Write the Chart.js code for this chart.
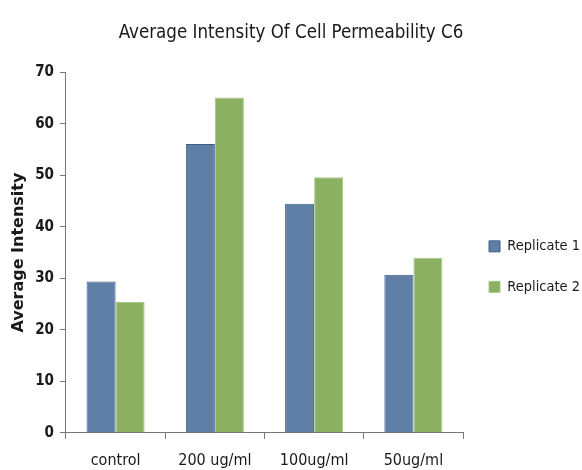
<!DOCTYPE html>
<html>
<head>
<meta charset="utf-8">
<script src="https://cdn.jsdelivr.net/npm/chart.js@4"></script>
<style>
  html, body { margin: 0; padding: 0; background: #fff; }
  #wrap { width: 582px; height: 470px; }
</style>
</head>
<body>
<div id="wrap"><canvas id="c6Chart" width="582" height="470"></canvas></div>
<script>
// chart data
const categories = ['control', '200 ug/ml', '100ug/ml', '50ug/ml'];
const replicate1 = [29.4, 56.1, 44.5, 30.7];
const replicate2 = [25.4, 65.1, 49.6, 34.0];
const yTicks = [0, 10, 20, 30, 40, 50, 60, 70];

const labelFont = "'Liberation Sans Narrow', 'DejaVu Sans Condensed', 'Open Sans', sans-serif";

const ctx = document.getElementById('c6Chart');
new Chart(ctx, {
    type: 'bar',
    data: {
        labels: categories,
        datasets: [
            {
                label: 'Replicate 1',
                data: replicate1,
                backgroundColor: '#607fa6',
                borderColor: '#3d5d85',
                borderWidth: 1
            },
            {
                label: 'Replicate 2',
                data: replicate2,
                backgroundColor: '#8bb061',
                borderColor: '#a6c782',
                borderWidth: 1
            }
        ]
    },
    options: {
        responsive: false,
        animation: false,
        layout: { padding: { left: -8, right: -8, bottom: -12 } },
        datasets: {
            bar: { barPercentage: 1, categoryPercentage: 0.585 }
        },
        plugins: {
            title: {
                display: true,
                text: 'Average Intensity Of Cell Permeability C6',
                color: '#1a1a1a',
                font: { family: labelFont, size: 18.6, weight: 'normal' },
                padding: { top: 22, bottom: 28 }
            },
            legend: {
                position: 'right',
                // empty title only pushes the items further down
                title: { display: true, text: ' ', font: { size: 1 }, padding: 25 },
                labels: {
                    color: '#1a1a1a',
                    font: { family: labelFont, size: 14.5 },
                    boxWidth: 11,
                    boxHeight: 11,
                    padding: 26
                }
            },
            tooltip: { enabled: false }
        },
        scales: {
            x: {
                grid: {
                    offset: true,
                    drawOnChartArea: false,
                    drawTicks: true,
                    tickLength: 6,
                    color: '#777'
                },
                border: { color: '#777', width: 1 },
                ticks: {
                    color: '#1a1a1a',
                    font: { family: labelFont, size: 16 },
                    padding: 12,
                    maxRotation: 0
                }
            },
            y: {
                min: 0,
                max: 70,
                afterBuildTicks: axis => { axis.ticks = yTicks.map(v => ({ value: v })); },
                grid: {
                    drawOnChartArea: false,
                    drawTicks: true,
                    tickLength: 6,
                    color: '#777'
                },
                border: { color: '#777', width: 1 },
                ticks: {
                    color: '#1a1a1a',
                    font: { family: labelFont, size: 15, weight: 'bold' },
                    padding: 6
                },
                title: {
                    display: true,
                    text: 'Average Intensity',
                    color: '#1a1a1a',
                    font: { family: "'DejaVu Sans', sans-serif", size: 16, weight: 'bold' },
                    padding: { top: 17, bottom: 1 }
                }
            }
        }
    }
});
</script>
</body>
</html>
